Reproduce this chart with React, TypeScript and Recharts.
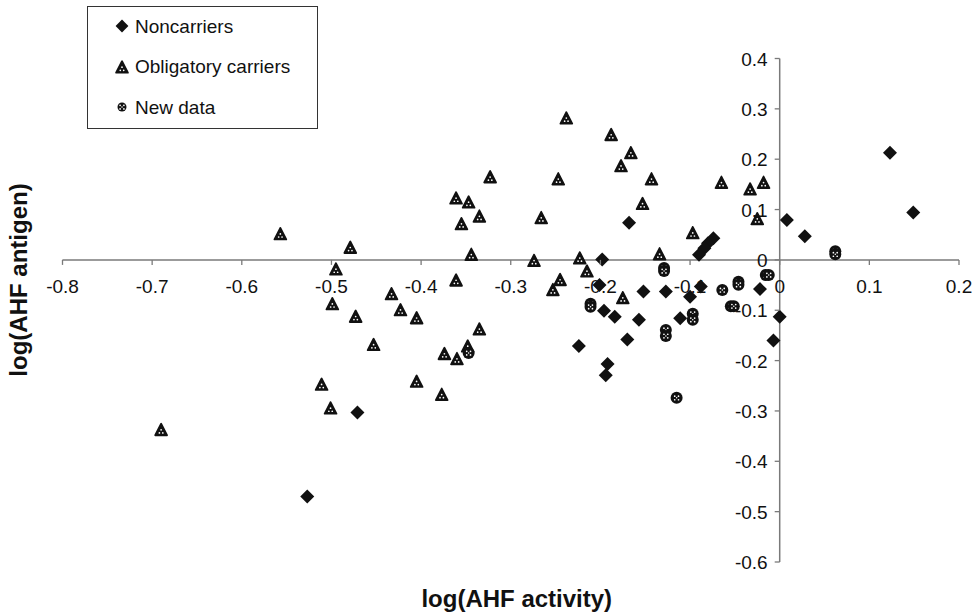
import React from "react";
import {
  ScatterChart,
  Scatter,
  XAxis,
  YAxis,
  ReferenceLine,
  Legend,
} from "recharts";

// ---- data (log AHF activity, log AHF antigen) ----
const noncarriers: [number, number][] = [
  [-0.471, -0.303], [-0.527, -0.47], [-0.168, 0.074], [-0.198, 0.001],
  [-0.074, 0.043], [-0.08, 0.033], [-0.084, 0.023], [-0.09, 0.01],
  [-0.201, -0.05], [-0.152, -0.063], [-0.127, -0.063], [-0.088, -0.053],
  [-0.1, -0.073], [-0.022, -0.058], [-0.196, -0.101], [-0.184, -0.113],
  [-0.157, -0.119], [-0.111, -0.116], [-0.17, -0.158], [-0.224, -0.171],
  [-0.192, -0.207], [-0.194, -0.229], [0.0, -0.113], [-0.007, -0.16],
  [0.123, 0.213], [0.149, 0.094], [0.008, 0.079], [0.028, 0.047],
];

const obligatoryCarriers: [number, number][] = [
  [-0.557, 0.051], [-0.479, 0.024], [-0.495, -0.019], [-0.499, -0.088],
  [-0.473, -0.113], [-0.511, -0.248], [-0.501, -0.295], [-0.69, -0.338],
  [-0.453, -0.169], [-0.433, -0.068], [-0.423, -0.1], [-0.405, -0.116],
  [-0.405, -0.242], [-0.377, -0.268], [-0.374, -0.187], [-0.36, -0.197],
  [-0.348, -0.172], [-0.335, -0.138], [-0.361, -0.041], [-0.344, 0.01],
  [-0.355, 0.071], [-0.335, 0.086], [-0.347, 0.114], [-0.361, 0.122],
  [-0.323, 0.164], [-0.274, -0.002], [-0.266, 0.083], [-0.247, 0.16],
  [-0.253, -0.06], [-0.245, -0.04], [-0.238, 0.281], [-0.188, 0.248],
  [-0.166, 0.212], [-0.177, 0.186], [-0.143, 0.16], [-0.153, 0.111],
  [-0.223, 0.003], [-0.215, -0.023], [-0.175, -0.076], [-0.134, 0.011],
  [-0.097, 0.053], [-0.065, 0.153], [-0.033, 0.14], [-0.018, 0.153],
  [-0.025, 0.081],
];

const newData: [number, number][] = [
  [-0.129, -0.016], [-0.129, -0.022], [-0.0155, -0.03], [-0.0122, -0.03],
  [-0.046, -0.0435], [-0.046, -0.0495], [-0.064, -0.06], [-0.211, -0.087],
  [-0.211, -0.093], [-0.0545, -0.092], [-0.0512, -0.092], [-0.097, -0.107],
  [-0.097, -0.119], [-0.127, -0.139], [-0.127, -0.151], [-0.115, -0.274],
  [0.062, 0.017], [0.062, 0.011], [-0.347, -0.185],
];

const seriesNames = ["Noncarriers", "Obligatory carriers", "New data"];
const xTicks = [-0.8, -0.7, -0.6, -0.5, -0.4, -0.3, -0.2, -0.1, 0, 0.1, 0.2];
const yTicks = [-0.6, -0.5, -0.4, -0.3, -0.2, -0.1, 0, 0.1, 0.2, 0.3, 0.4];
const xTitle = "log(AHF activity)";
const yTitle = "log(AHF antigen)";

// ---- layout ----
const W = 976;
const H = 616;
const M = { top: 58.5, right: 17, bottom: 53, left: 61.5 };
const AXIS_SIZE = 1;
const X_MIN = -0.8, X_MAX = 0.2, Y_MIN = -0.6, Y_MAX = 0.4;
const PLOT_L = M.left + AXIS_SIZE;
const PLOT_W = W - PLOT_L - M.right;
const PLOT_H = H - M.top - M.bottom - AXIS_SIZE;
const zeroY = M.top + (PLOT_H * (Y_MAX - 0)) / (Y_MAX - Y_MIN);
const zeroX = PLOT_L + (PLOT_W * (0 - X_MIN)) / (X_MAX - X_MIN);
const AXIS = "#7a7a7a";
const INK = "#111";
const FONT = "'Liberation Sans', Arial, sans-serif";

const toPts = (arr: [number, number][]) => arr.map(([x, y]) => ({ x, y }));
const fmt = (v: number) => String(Number(v.toFixed(1)));

const Diamond = ({ cx, cy, r = 7 }: any) => (
  <polygon
    points={`${cx},${cy - r} ${cx + r},${cy} ${cx},${cy + r} ${cx - r},${cy}`}
    fill={INK}
  />
);

const Triangle = ({ cx, cy, s = 1 }: any) => (
  <g>
    <polygon
      points={`${cx},${cy - 6.3 * s} ${cx - 5.9 * s},${cy + 5.2 * s} ${cx + 5.9 * s},${cy + 5.2 * s}`}
      fill={INK}
      stroke={INK}
      strokeWidth={1.8}
      strokeLinejoin="round"
    />
    <circle cx={cx} cy={cy - 0.3 * s} r={0.85} fill="#fff" />
    <circle cx={cx - 1.7 * s} cy={cy + 2.8 * s} r={0.85} fill="#fff" />
    <circle cx={cx + 1.7 * s} cy={cy + 2.8 * s} r={0.85} fill="#fff" />
  </g>
);

const Dotted = ({ cx, cy, r = 6 }: any) => (
  <g>
    <circle cx={cx} cy={cy} r={r} fill={INK} />
    <circle cx={cx - 1.9} cy={cy - 1.7} r={0.85} fill="#fff" />
    <circle cx={cx + 1.9} cy={cy - 1.7} r={0.85} fill="#fff" />
    <circle cx={cx - 1.9} cy={cy + 1.9} r={0.85} fill="#fff" />
    <circle cx={cx + 1.9} cy={cy + 1.9} r={0.85} fill="#fff" />
    <circle cx={cx} cy={cy} r={0.75} fill="#fff" />
  </g>
);

const XTick = ({ x, payload }: any) => (
  <g>
    <line x1={x} x2={x} y1={zeroY} y2={zeroY + 5} stroke={AXIS} strokeWidth={1.3} />
    <text x={x} y={zeroY + 33} textAnchor="middle" fontSize={19} fill={INK} fontFamily={FONT}>
      {fmt(payload.value)}
    </text>
  </g>
);

const YTick = ({ y, payload }: any) => (
  <g>
    <line x1={zeroX - 5} x2={zeroX} y1={y} y2={y} stroke={AXIS} strokeWidth={1.3} />
    <text x={zeroX - 12} y={y + 7} textAnchor="end" fontSize={19} fill={INK} fontFamily={FONT}>
      {fmt(payload.value)}
    </text>
  </g>
);

const LegendBox = () => {
  const rows = [
    { name: seriesNames[0], icon: <Diamond cx={35} cy={20} r={6.4} /> },
    { name: seriesNames[1], icon: <Triangle cx={35} cy={61.5} s={1} /> },
    { name: seriesNames[2], icon: <Dotted cx={35} cy={101} r={4.5} /> },
  ];
  return (
    <div
      style={{
        width: 231,
        height: 123,
        border: "1.5px solid #333",
        boxSizing: "border-box",
        background: "#fff",
      }}
    >
      <svg width={229} height={121} style={{ display: "block", marginLeft: -1.5, marginTop: -1.5 }}>
        {rows.map((r, i) => (
          <g key={r.name}>
            {r.icon}
            <text x={48} y={26.5 + i * 40.8} fontSize={19} fill={INK} fontFamily={FONT}>
              {r.name}
            </text>
          </g>
        ))}
      </svg>
    </div>
  );
};

export default function App() {
  return (
    <div style={{ position: "absolute", left: 0, top: 0, width: W, height: H, background: "#fff" }}>
      <ScatterChart width={W} height={H} margin={M}>
        <XAxis
          type="number"
          dataKey="x"
          domain={[X_MIN, X_MAX]}
          ticks={xTicks}
          interval={0}
          height={AXIS_SIZE}
          axisLine={false}
          tickLine={false}
          tick={<XTick />}
          label={{
            content: ({ viewBox }: any) => (
              <text
                x={viewBox.x + viewBox.width / 2 + 6}
                y={607}
                textAnchor="middle"
                fontSize={24}
                fontWeight="bold"
                fill={INK}
                fontFamily={FONT}
              >
                {xTitle}
              </text>
            ),
          }}
        />
        <YAxis
          type="number"
          dataKey="y"
          domain={[Y_MIN, Y_MAX]}
          ticks={yTicks}
          interval={0}
          width={AXIS_SIZE}
          axisLine={false}
          tickLine={false}
          tick={<YTick />}
          label={{
            content: () => (
              <text
                x={27}
                y={280}
                transform="rotate(-90, 27, 280)"
                textAnchor="middle"
                fontSize={24}
                fontWeight="bold"
                fill={INK}
                fontFamily={FONT}
              >
                {yTitle}
              </text>
            ),
          }}
        />
        <ReferenceLine y={0} stroke={AXIS} strokeWidth={1.5} />
        <ReferenceLine x={0} stroke={AXIS} strokeWidth={1.5} />
        <Legend
          layout="vertical"
          align="center"
          verticalAlign="middle"
          wrapperStyle={{ position: "absolute", left: 87, top: 6, width: 231, height: 123 }}
          content={() => <LegendBox />}
        />
        <Scatter
          name={seriesNames[1]}
          data={toPts(obligatoryCarriers)}
          shape={(p: any) => <Triangle cx={p.cx} cy={p.cy} />}
          isAnimationActive={false}
        />
        <Scatter
          name={seriesNames[2]}
          data={toPts(newData)}
          shape={(p: any) => <Dotted cx={p.cx} cy={p.cy} />}
          isAnimationActive={false}
        />
        <Scatter
          name={seriesNames[0]}
          data={toPts(noncarriers)}
          shape={(p: any) => <Diamond cx={p.cx} cy={p.cy} />}
          isAnimationActive={false}
        />
      </ScatterChart>
    </div>
  );
}
